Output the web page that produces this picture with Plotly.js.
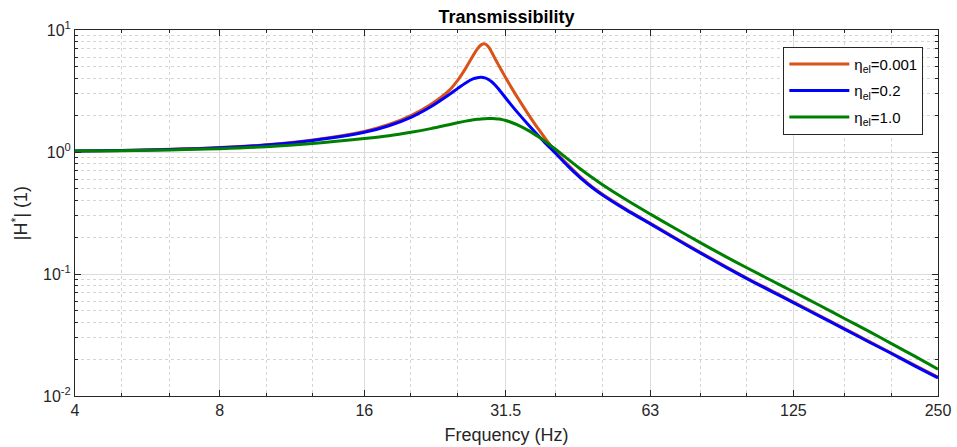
<!DOCTYPE html>
<html><head><meta charset="utf-8">
<script src="https://cdn.plot.ly/plotly-3.0.1.min.js"></script>
<style>html,body{margin:0;padding:0;background:#fff}#chart{width:957px;height:447px}</style>
</head><body><div id="chart"></div>
<script>
const freqHz = [4,5,6.3,8,10,12.5,16,18,20,22,24,25,26,27,27.5,28,28.5,29,29.5,30,30.5,31,31.5,32.5,33.5,35,36,37,38,39,40,42.5,45,47.5,50,56,63,71,80,90,100,112,125,140,160,180,200,224,250];
// |H*| for eta_el = 0.001
const hEta0001 = [1.02,1.031,1.051,1.087,1.145,1.255,1.475,1.68,1.99,2.45,3.18,3.85,4.85,6.25,7.0,7.55,7.7,7.3,6.5,5.73,5.09,4.54,4.06,3.292,2.712,2.076,1.76,1.508,1.304,1.139,1.006,0.78,0.629,0.525,0.453,0.341,0.2605,0.1975,0.1507,0.1163,0.0928,0.0737,0.059,0.0468,0.0356,0.0279,0.02252,0.01785,0.01425];
// |H*| for eta_el = 0.2
const hEta02 = [1.02,1.031,1.05,1.085,1.14,1.245,1.45,1.641,1.922,2.348,2.944,3.307,3.683,3.987,4.068,4.094,4.051,3.933,3.749,3.511,3.254,3.004,2.773,2.379,2.063,1.694,1.498,1.333,1.193,1.078,0.977,0.762,0.617,0.517,0.447,0.337,0.2574,0.1952,0.1489,0.1149,0.0917,0.0728,0.0583,0.0462,0.0352,0.0276,0.0223,0.0176,0.0141];
// |H*| for eta_el = 1.0
const hEta10 = [1.018,1.025,1.04,1.065,1.105,1.175,1.29,1.36,1.45,1.555,1.675,1.736,1.791,1.836,1.853,1.866,1.875,1.88,1.881,1.876,1.864,1.843,1.814,1.736,1.65,1.51,1.415,1.32,1.228,1.137,1.053,0.87,0.729,0.623,0.542,0.408,0.3096,0.2357,0.1809,0.1401,0.1125,0.0893,0.0715,0.0568,0.043,0.0337,0.0269,0.0211,0.0166];

const seriesNames = ['\u03b7<sub>el</sub>=0.001','\u03b7<sub>el</sub>=0.2','\u03b7<sub>el</sub>=1.0'];
const seriesColors = ['#D95319','#0000FF','#008000'];

const xTickVals = [4,8,16,31.5,63,125,250];
const xTickText = ['4','8','16','31.5','63','125','250'];
const xMinorVals = [5,6.3,10,12.5,20,25,40,50,80,100,160,200];
const yTickVals = [0.01,0.1,1,10];
const yTickText = ['10<sup>-2</sup>','10<sup>-1</sup>','10<sup>0</sup>','10<sup>1</sup>'];
const yMinorVals = [0.02,0.03,0.04,0.05,0.06,0.07,0.08,0.09,0.2,0.3,0.4,0.5,0.6,0.7,0.8,0.9,2,3,4,5,6,7,8,9];

const ys = [hEta0001, hEta02, hEta10];
const traces = ys.map((y, i) => ({
  x: freqHz, y: y, type: 'scatter', mode: 'lines', name: seriesNames[i],
  legendgroup: 'g' + i,
  line: {color: seriesColors[i], width: 3, shape: 'spline', smoothing: 0.9}
}));

const axisCommon = {
  type: 'log', tickmode: 'array', ticks: 'inside', ticklen: 6, tickwidth: 1, tickcolor: '#262626',
  showline: true, linecolor: '#262626', linewidth: 1, mirror: 'allticks',
  showgrid: true, gridcolor: '#dcdcdc', gridwidth: 1, zeroline: false,
  tickfont: {size: 16, color: '#262626'}
};

const layout = {
  width: 957, height: 447,
  margin: {l: 75, r: 19, t: 30, b: 51},
  paper_bgcolor: '#ffffff', plot_bgcolor: '#ffffff',
  font: {family: 'Liberation Sans, Arial, Helvetica, sans-serif', size: 16, color: '#262626'},
  showlegend: true,
  title: {text: '<b>Transmissibility</b>', x: 0.5, xref: 'paper', xanchor: 'center',
          y: 1 - 17/447, yref: 'container', yanchor: 'middle', font: {size: 18, color: '#000'}},
  xaxis: Object.assign({}, axisCommon, {
    range: [Math.log10(4), Math.log10(250)],
    tickvals: xTickVals, ticktext: xTickText,
    minor: {tickmode: 'array', tickvals: xMinorVals, ticks: 'inside', ticklen: 3, tickcolor: '#262626',
            showgrid: true, gridcolor: '#d4d4d4', griddash: '3px,3px', gridwidth: 1},
    title: {text: 'Frequency (Hz)', font: {size: 18, color: '#262626'}, standoff: 10}
  }),
  yaxis: Object.assign({}, axisCommon, {
    range: [-2, 1],
    tickvals: yTickVals, ticktext: yTickText,
    minor: {tickmode: 'array', tickvals: yMinorVals, ticks: 'inside', ticklen: 3, tickcolor: '#262626',
            showgrid: true, gridcolor: '#d4d4d4', griddash: '3px,3px', gridwidth: 1},
    title: {text: '|H<sup>*</sup>| (1)', font: {size: 18, color: '#262626'}, standoff: 10}
  }),
  legend: {x: 0.983, xanchor: 'right', y: 0.954, yanchor: 'top', bgcolor: '#ffffff',
           bordercolor: '#262626', borderwidth: 1, font: {size: 15, color: '#000'},
           tracegroupgap: 4, itemwidth: 60}
};

Plotly.newPlot('chart', traces, layout, {displayModeBar: false, staticPlot: true});
</script>
</body></html>
